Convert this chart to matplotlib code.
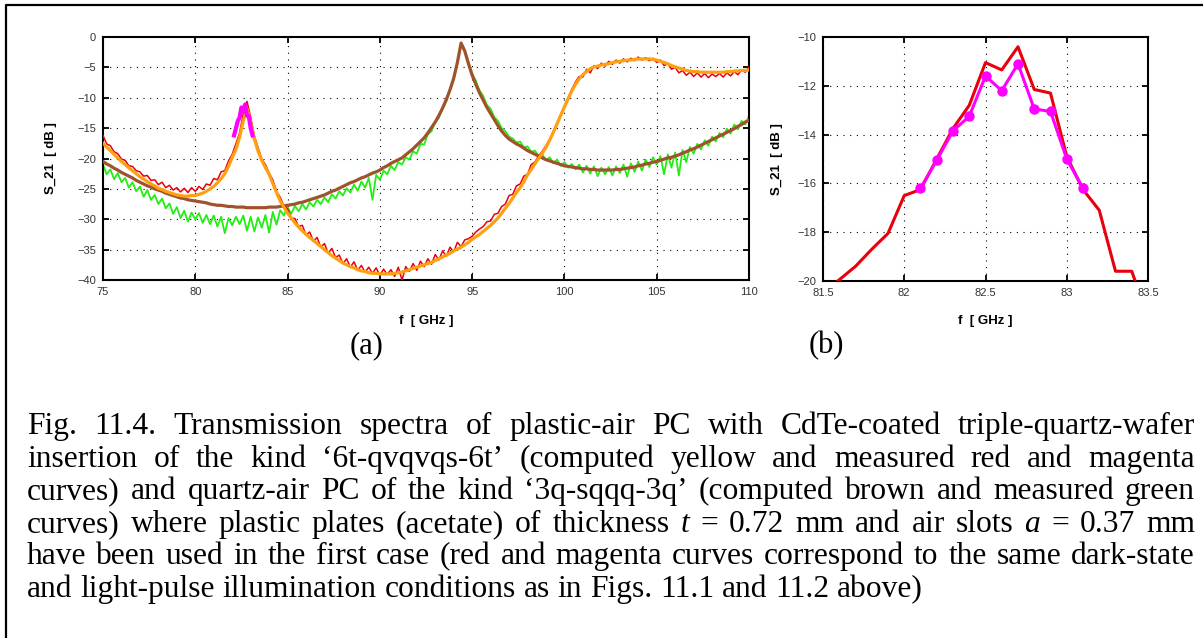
import numpy as np
import matplotlib
matplotlib.use('Agg')
import matplotlib.pyplot as plt
from matplotlib.lines import Line2D

# 频率轴 (GHz)，步长 0.2
f_a = np.round(np.arange(75.0, 110.0001, 0.2), 1)

# 计算曲线：6t-qvqvqs-6t (黄/橙)
s21_calc_plastic = [
    -17.5, -18.1, -18.7, -19.3, -19.9, -20.5, -21.0, -21.5, -22.0, -22.5,
    -23.0, -23.4, -23.8, -24.2, -24.5, -24.9, -25.1, -25.4, -25.6, -25.8,
    -26.0, -26.1, -26.2, -26.2, -26.1, -26.1, -25.9, -25.7, -25.4, -25.0,
    -24.6, -24.0, -23.3, -22.5, -21.3, -19.8, -18.5, -16.5, -13.8, -11.8,
    -14.0, -16.8, -18.8, -20.3, -21.5, -22.6, -24.1, -25.6, -27.0, -28.0,
    -29.0, -29.8, -30.6, -31.3, -31.9, -32.5, -33.0, -33.5, -34.0, -34.5,
    -35.0, -35.5, -36.0, -36.4, -36.8, -37.2, -37.5, -37.8, -38.0, -38.3,
    -38.5, -38.6, -38.8, -38.9, -38.9, -39.0, -39.0, -39.0, -39.0, -38.9,
    -38.8, -38.7, -38.5, -38.3, -38.1, -37.9, -37.7, -37.5, -37.3, -37.1,
    -36.8, -36.5, -36.2, -35.9, -35.6, -35.2, -34.9, -34.6, -34.2, -33.8,
    -33.3, -32.9, -32.5, -32.0, -31.5, -31.0, -30.4, -29.8, -29.0, -28.2,
    -27.4, -26.5, -25.6, -24.8, -23.8, -22.7, -21.8, -20.9, -20.0, -19.1,
    -18.2, -17.0, -15.7, -14.3, -12.9, -11.5, -10.2, -8.9, -7.8, -6.9,
    -6.2, -5.7, -5.2, -4.9, -4.8, -4.6, -4.5, -4.4, -4.2, -4.1,
    -4.0, -3.9, -3.8, -3.8, -3.7, -3.6, -3.6, -3.6, -3.6, -3.7,
    -3.8, -4.0, -4.2, -4.4, -4.7, -4.9, -5.1, -5.3, -5.5, -5.6,
    -5.7, -5.7, -5.8, -5.8, -5.8, -5.8, -5.8, -5.8, -5.8, -5.7,
    -5.7, -5.6, -5.6, -5.5, -5.5, -5.4,
]

# 实测曲线：暗态 (红)
s21_meas_plastic = [
    -16.2, -17.6, -17.9, -18.9, -19.2, -20.1, -20.3, -21.2, -21.3, -22.0,
    -22.2, -22.9, -22.8, -23.6, -23.5, -24.3, -23.9, -24.8, -24.4, -25.2,
    -24.8, -25.5, -24.9, -25.6, -24.8, -25.4, -24.6, -25.1, -24.2, -24.4,
    -23.3, -23.5, -22.2, -22.0, -20.4, -19.3, -17.6, -15.8, -12.6, -10.6,
    -13.2, -16.3, -18.2, -20.1, -21.0, -22.4, -23.5, -25.4, -26.4, -27.8,
    -28.3, -29.8, -29.9, -31.2, -31.0, -32.6, -32.1, -33.6, -33.0, -34.6,
    -34.0, -35.6, -34.8, -36.3, -35.9, -37.3, -36.5, -37.9, -37.0, -38.4,
    -37.6, -38.7, -37.9, -38.9, -38.0, -39.3, -38.2, -39.1, -38.3, -39.4,
    -37.9, -40.0, -37.8, -38.6, -37.3, -38.4, -36.9, -37.8, -36.5, -37.4,
    -35.8, -36.7, -35.2, -36.1, -34.6, -35.4, -33.8, -34.5, -33.4, -33.2,
    -32.8, -32.1, -31.6, -31.2, -30.4, -30.3, -29.2, -29.0, -27.9, -27.5,
    -26.1, -25.9, -24.5, -24.2, -22.9, -22.6, -21.0, -20.6, -19.6, -18.8,
    -17.9, -16.8, -15.5, -14.1, -12.8, -11.3, -10.0, -8.6, -7.4, -6.5,
    -6.6, -5.3, -5.9, -4.7, -5.2, -4.3, -4.8, -4.0, -4.5, -3.8,
    -4.3, -3.6, -4.1, -3.5, -3.9, -3.3, -3.8, -3.4, -3.9, -3.5,
    -4.2, -3.8, -4.7, -4.4, -5.3, -5.0, -5.9, -5.5, -6.3, -5.8,
    -6.5, -5.9, -6.6, -6.0, -6.7, -6.1, -6.5, -6.0, -6.6, -5.9,
    -6.4, -5.7, -6.2, -5.4, -5.8, -4.9,
]

# 计算曲线：3q-sqqq-3q (棕)
s21_calc_quartz = [
    -20.5, -20.9, -21.2, -21.6, -21.9, -22.3, -22.6, -22.9, -23.2, -23.6,
    -23.9, -24.2, -24.5, -24.7, -25.0, -25.2, -25.4, -25.7, -25.9, -26.1,
    -26.3, -26.5, -26.6, -26.8, -26.9, -27.0, -27.1, -27.2, -27.3, -27.5,
    -27.6, -27.7, -27.7, -27.8, -27.9, -27.9, -28.0, -28.0, -28.0, -28.1,
    -28.1, -28.1, -28.1, -28.1, -28.1, -28.0, -28.0, -28.0, -27.9, -27.8,
    -27.7, -27.6, -27.5, -27.3, -27.2, -27.0, -26.8, -26.6, -26.4, -26.2,
    -26.0, -25.7, -25.4, -25.2, -24.9, -24.6, -24.3, -24.0, -23.8, -23.5,
    -23.2, -23.0, -22.7, -22.4, -22.2, -21.9, -21.5, -21.2, -20.8, -20.5,
    -20.2, -19.9, -19.4, -18.9, -18.4, -17.8, -17.2, -16.6, -15.8, -14.9,
    -14.0, -12.9, -11.7, -10.3, -8.7, -6.8, -4.2, -1.0, -2.3, -4.4,
    -6.3, -7.8, -9.2, -10.4, -11.6, -12.6, -13.6, -14.6, -15.5, -16.2,
    -16.8, -17.2, -17.6, -17.9, -18.3, -18.7, -19.0, -19.3, -19.6, -19.9,
    -20.2, -20.4, -20.6, -20.8, -21.0, -21.2, -21.3, -21.4, -21.5, -21.6,
    -21.7, -21.7, -21.8, -21.8, -21.9, -21.9, -21.9, -21.9, -21.9, -21.8,
    -21.8, -21.7, -21.6, -21.5, -21.4, -21.2, -21.1, -20.9, -20.8, -20.6,
    -20.5, -20.3, -20.1, -19.9, -19.8, -19.6, -19.4, -19.1, -18.9, -18.6,
    -18.4, -18.1, -17.8, -17.5, -17.2, -16.9, -16.6, -16.3, -16.0, -15.7,
    -15.4, -15.1, -14.7, -14.4, -14.0, -13.7,
]

# 实测曲线：石英 (绿)
s21_meas_quartz = [
    -21.0, -22.6, -21.8, -23.4, -22.4, -23.9, -23.2, -24.8, -23.9, -25.4,
    -24.6, -26.3, -25.2, -26.8, -26.0, -27.5, -26.6, -28.2, -27.4, -29.1,
    -28.0, -29.8, -28.6, -30.4, -28.9, -30.0, -29.0, -30.6, -29.3, -30.8,
    -29.4, -31.2, -29.6, -32.3, -29.8, -31.0, -29.6, -30.8, -29.4, -31.9,
    -29.6, -32.0, -29.7, -31.4, -29.3, -32.2, -28.8, -30.9, -28.5, -29.4,
    -28.0, -29.1, -27.8, -28.7, -27.5, -28.4, -27.2, -27.9, -26.8, -27.5,
    -26.4, -27.2, -25.9, -26.6, -25.4, -26.1, -24.9, -25.6, -24.3, -25.3,
    -23.8, -24.8, -23.2, -26.8, -22.7, -23.5, -22.0, -22.6, -21.2, -21.9,
    -20.6, -21.0, -19.8, -20.2, -18.8, -19.2, -17.6, -17.7, -16.0, -15.5,
    -14.0, -13.3, -11.6, -10.6, -8.6, -7.0, -4.2, -1.2, -2.4, -4.1,
    -6.0, -7.2, -8.8, -9.7, -11.2, -11.8, -13.2, -13.8, -15.0, -15.5,
    -16.4, -16.7, -17.4, -17.2, -18.2, -18.0, -18.9, -18.7, -19.6, -19.3,
    -20.3, -19.8, -20.8, -20.2, -21.2, -20.6, -21.5, -20.9, -21.8, -21.0,
    -22.3, -21.2, -22.5, -21.3, -22.9, -21.5, -22.6, -21.4, -22.8, -21.3,
    -22.4, -21.0, -23.0, -20.8, -22.2, -20.5, -22.0, -20.2, -21.4, -19.8,
    -21.0, -19.6, -22.6, -19.3, -21.5, -19.0, -22.8, -18.6, -20.6, -18.1,
    -19.2, -17.6, -18.5, -17.0, -17.9, -16.4, -17.2, -15.8, -16.5, -15.1,
    -15.9, -14.4, -15.2, -13.8, -14.4, -13.0,
]

# 峰值附近细测 (b)：红 = 暗态，品红 = 光脉冲照射
f_b_red = [81.5, 81.6, 81.7, 81.8, 81.9, 82.0, 82.1, 82.2, 82.3, 82.4, 82.5,
           82.6, 82.7, 82.8, 82.9, 83.0, 83.1, 83.2, 83.3, 83.4, 83.5]
s21_b_red = [-20.5, -19.95, -19.4, -18.7, -18.05, -16.5, -16.25, -15.0, -13.75,
             -12.8, -11.05, -11.35, -10.4, -12.15, -12.3, -14.9, -16.25, -17.1,
             -19.6, -19.6, -21.5]
f_b_mag = [82.1, 82.2, 82.3, 82.4, 82.5, 82.6, 82.7, 82.8, 82.9, 83.0, 83.1]
s21_b_mag = [-16.2, -15.05, -13.85, -13.25, -11.6, -12.2, -11.1, -12.95,
             -13.05, -15.0, -16.2]

xticks_a = [75, 80, 85, 90, 95, 100, 105, 110]
yticks_a = [0, -5, -10, -15, -20, -25, -30, -35, -40]
xticks_b = [81.5, 82, 82.5, 83, 83.5]
xticklabels_b = ['81.5', '82', '82.5', '83', '83.5']
yticks_b = [-10, -12, -14, -16, -18, -20]

caption = [
    "Fig. 11.4. Transmission spectra of plastic-air PC with CdTe-coated triple-quartz-wafer",
    "insertion of the kind \u20186t-qvqvqs-6t\u2019 (computed yellow and measured red and magenta",
    "curves) and quartz-air PC of the kind \u20183q-sqqq-3q\u2019 (computed brown and measured green",
    "curves) where plastic plates (acetate) of thickness t = 0.72 mm and air slots a = 0.37 mm",
    "have been used in the first case (red and magenta curves correspond to the same dark-state",
    "and light-pulse illumination conditions as in Figs. 11.1 and 11.2 above)",
]

W, H = 1203, 638
fig = plt.figure(figsize=(W / 100, H / 100), dpi=100)
fig.patch.set_facecolor('white')


def ax_rect(l, t, r, b):
    return [l / W, 1 - b / H, (r - l) / W, (b - t) / H]


def style_axes(ax):
    for s in ax.spines.values():
        s.set_linewidth(1.5)
    ax.tick_params(direction='in', top=True, right=True, length=4, width=1.3,
                   labelsize=8, labelcolor='#333333', pad=5)
    for lab in ax.get_xticklabels() + ax.get_yticklabels():
        lab.set_family('Liberation Sans')
    ax.grid(True, color='black', linestyle=(0, (1, 5)), linewidth=0.8)


# (a) 全频段
ax1 = fig.add_axes(ax_rect(103, 37, 749, 280))
ax1.plot(f_a, s21_meas_quartz, color='#22ee11', lw=1.3, zorder=2)
ax1.plot(f_a, s21_calc_quartz, color='#a0522d', lw=2.3, zorder=3)
ax1.plot(f_a, s21_meas_plastic, color='#e8000c', lw=1.1, zorder=4)
ax1.plot(f_a, s21_calc_plastic, color='#ffa010', lw=2.3, zorder=5)
ax1.plot(f_b_mag, s21_b_mag, color='#ff00ff', lw=3.0, zorder=6)
ax1.set_xlim(75, 110)
ax1.set_ylim(-40, 0)
ax1.set_xticks(xticks_a)
ax1.set_yticks(yticks_a)
style_axes(ax1)
ax1.set_xlabel('f  [ GHz ]', fontsize=9.5, fontweight='bold', family='Liberation Sans')
ax1.set_ylabel('S_21  [ dB ]', fontsize=9.5, fontweight='bold', family='Liberation Sans')
ax1.xaxis.set_label_coords(0.5, -0.145)
ax1.yaxis.set_label_coords(-0.071, 0.5)

# (b) 峰值放大
ax2 = fig.add_axes(ax_rect(823, 37, 1148, 281))
ax2.plot(f_b_red, s21_b_red, color='#e8000c', lw=2.2, zorder=3, clip_on=True)
ax2.plot(f_b_mag, s21_b_mag, color='#ff00ff', lw=2.2, marker='o', ms=6.5, zorder=4)
ax2.set_xlim(81.5, 83.5)
ax2.set_ylim(-20, -10)
ax2.set_xticks(xticks_b)
ax2.set_xticklabels(xticklabels_b)
ax2.set_yticks(yticks_b)
style_axes(ax2)
ax2.set_xlabel('f  [ GHz ]', fontsize=9.5, fontweight='bold', family='Liberation Sans')
ax2.set_ylabel('S_21  [ dB ]', fontsize=9.5, fontweight='bold', family='Liberation Sans')
ax2.xaxis.set_label_coords(0.5, -0.14)
ax2.yaxis.set_label_coords(-0.123, 0.5)

fig.text(367 / W, 1 - 346 / H, '(a)', fontsize=22, family='Liberation Serif',
         ha='center', va='center')
fig.text(826 / W, 1 - 346 / H, '(b)', fontsize=22, family='Liberation Serif',
         ha='center', va='center')

# 外框 (左、上)
fig.add_artist(Line2D([6 / W, 6 / W, 1.0], [0.0, 1 - 5 / H, 1 - 5 / H],
                      transform=fig.transFigure, color='black', lw=1.6))

# 图注：两端对齐
renderer = fig.canvas.get_renderer()
left_px, right_px = 27, 1195
base0, step = 434, 32.6
fs = 26
rows = []
for line in caption:
    words = line.split(' ')
    objs = []
    for w in words:
        st = 'italic' if w in ('t', 'a') else 'normal'
        objs.append(fig.text(0, 0, w, fontsize=fs, family='Liberation Serif',
                             style=st, va='baseline', ha='left'))
    rows.append(objs)
sp = fig.text(0, 0, 'a a', fontsize=fs, family='Liberation Serif')
sp2 = fig.text(0, 0, 'aa', fontsize=fs, family='Liberation Serif')
space_w = sp.get_window_extent(renderer).width - sp2.get_window_extent(renderer).width
sp.remove()
sp2.remove()

natural = []
for objs in rows:
    ws = [o.get_window_extent(renderer).width for o in objs]
    natural.append(sum(ws) + space_w * (len(ws) - 1))
scale = min(1.0, (right_px - left_px) / max(natural[:-1]) * 0.975)
fs2 = fs * scale
for objs in rows:
    for o in objs:
        o.set_fontsize(fs2)
space_w *= scale

for i, objs in enumerate(rows):
    ws = [o.get_window_extent(renderer).width for o in objs]
    if i < len(rows) - 1:
        gap = (right_px - left_px - sum(ws)) / (len(ws) - 1)
    else:
        gap = space_w
    x = left_px
    y = base0 + i * step
    for o, w in zip(objs, ws):
        o.set_position((x / W, 1 - y / H))
        x += w + gap

fig.savefig('out.png', dpi=100, facecolor='white')
